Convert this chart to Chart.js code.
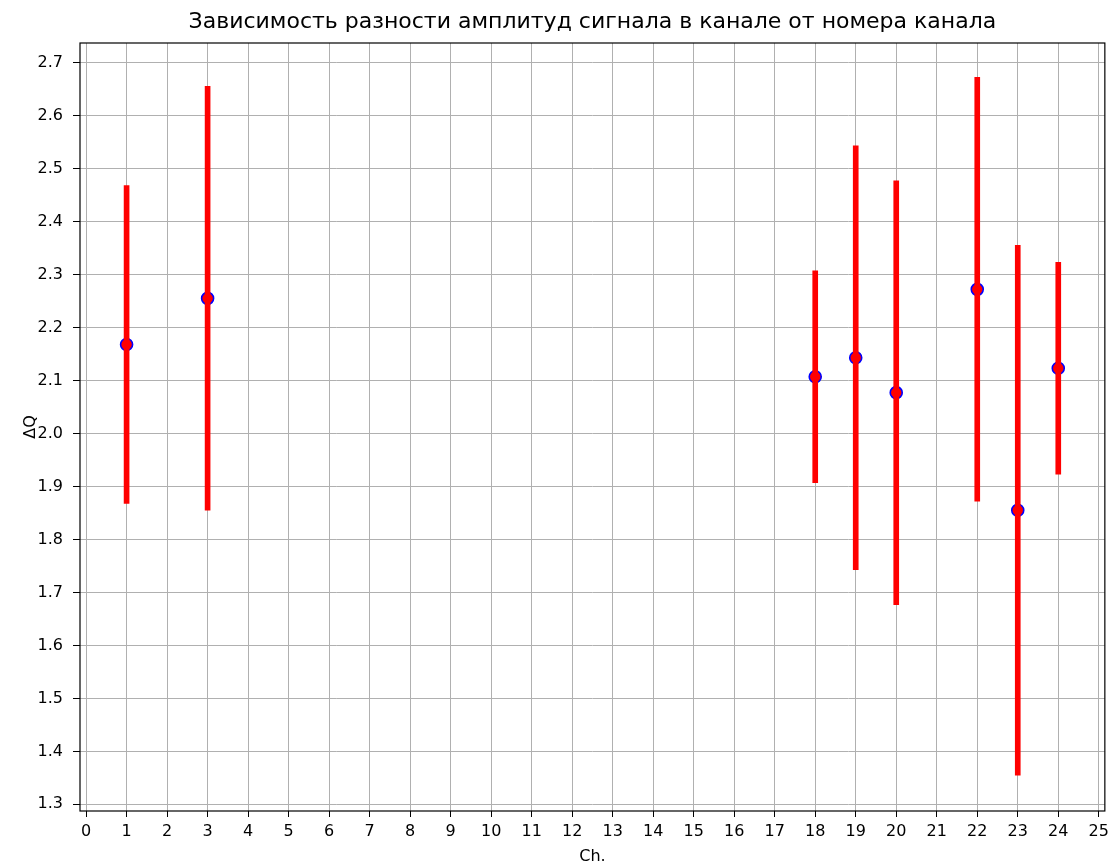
<!DOCTYPE html>
<html>
<head>
<meta charset="utf-8">
<script src="https://cdn.jsdelivr.net/npm/chart.js@4.4.1/dist/chart.umd.min.js"></script>
<style>
  html, body { margin: 0; padding: 0; background: #fff; }
  #wrap { width: 1114px; height: 866px; }
</style>
</head>
<body>
<div id="wrap"><canvas id="c" width="1114" height="866"></canvas></div>
<script>
// Channel numbers, amplitude difference per channel and its uncertainty
const channels = [1, 3, 18, 19, 20, 22, 23, 24];
const deltaQ   = [2.168, 2.255, 2.107, 2.143, 2.077, 2.272, 1.855, 2.123];
const errQ     = [0.3, 0.4, 0.2, 0.4, 0.4, 0.4, 0.5, 0.2];

// Tick values for both axes
const xTicks = [0,1,2,3,4,5,6,7,8,9,10,11,12,13,14,15,16,17,18,19,20,21,22,23,24,25];
const yTicks = [1.3,1.4,1.5,1.6,1.7,1.8,1.9,2.0,2.1,2.2,2.3,2.4,2.5,2.6,2.7];

const titleText = 'Зависимость разности амплитуд сигнала в канале от номера канала';
const FONT = "'DejaVu Sans', sans-serif";

const points = channels.map((c, i) => ({ x: c, y: deltaQ[i] }));
const bars = channels.map((c, i) => ({ x: c, y: [deltaQ[i] - errQ[i], deltaQ[i] + errQ[i]] }));

// Frame around the plotting area (all four sides)
const frame = {
  id: 'frame',
  afterDatasetsDraw(chart) {
    const a = chart.chartArea, ctx = chart.ctx;
    ctx.save();
    ctx.strokeStyle = '#000';
    ctx.lineWidth = 1.2;
    ctx.strokeRect(a.left, a.top, a.right - a.left, a.bottom - a.top);
    ctx.restore();
  }
};

// Center the title over the plotting area rather than the whole canvas
const titleOverArea = {
  id: 'titleOverArea',
  afterLayout(chart) {
    if (chart.titleBlock) {
      chart.titleBlock.left = chart.chartArea.left;
      chart.titleBlock.right = chart.chartArea.right;
    }
  }
};

new Chart(document.getElementById('c'), {
  type: 'bar',
  data: {
    datasets: [
      {
        type: 'bar',
        data: bars,
        backgroundColor: '#ff0000',
        borderWidth: 0,
        barThickness: 5,
        order: 0
      },
      {
        type: 'scatter',
        data: points,
        backgroundColor: '#ff0000',
        borderColor: '#0000ff',
        borderWidth: 1.6,
        pointRadius: 6,
        order: 1
      }
    ]
  },
  options: {
    responsive: false,
    animation: false,
    devicePixelRatio: 1,
    layout: { padding: { left: 0, right: 8, top: 0, bottom: 0 } },
    plugins: {
      legend: { display: false },
      tooltip: { enabled: false },
      title: {
        display: true,
        text: titleText,
        color: '#000',
        font: { family: FONT, size: 22, weight: 'normal' },
        padding: { top: 9, bottom: 7.6 }
      }
    },
    scales: {
      x: {
        type: 'linear',
        offset: false,
        min: -0.15,
        max: 25.15,
        afterBuildTicks(scale) { scale.ticks = xTicks.map(v => ({ value: v })); },
        afterFit(scale) { scale.height = 55; },
        grid: { offset: false, color: '#b0b0b0', lineWidth: 1, tickColor: '#000', tickLength: 6, drawTicks: true },
        border: { display: false },
        ticks: {
          color: '#000',
          padding: 5,
          maxRotation: 0,
          autoSkip: false,
          font: { family: FONT, size: 16 },
          callback: v => String(v)
        },
        title: {
          display: true,
          text: 'Ch.',
          color: '#000',
          font: { family: FONT, size: 16 },
          padding: { top: 0, bottom: 0 }
        }
      },
      y: {
        type: 'linear',
        min: 1.2874,
        max: 2.737,
        afterBuildTicks(scale) { scale.ticks = yTicks.map(v => ({ value: v })); },
        afterFit(scale) { scale.width = 80; },
        grid: { color: '#b0b0b0', lineWidth: 1, tickColor: '#000', tickLength: 7, drawTicks: true },
        border: { display: false },
        ticks: {
          color: '#000',
          padding: 10,
          autoSkip: false,
          font: { family: FONT, size: 16 },
          callback: v => v.toFixed(1)
        },
        title: {
          display: true,
          text: 'ΔQ',
          color: '#000',
          font: { family: FONT, size: 16 },
          padding: { top: 21, bottom: 0 }
        }
      }
    }
  },
  plugins: [frame, titleOverArea]
});
</script>
</body>
</html>
